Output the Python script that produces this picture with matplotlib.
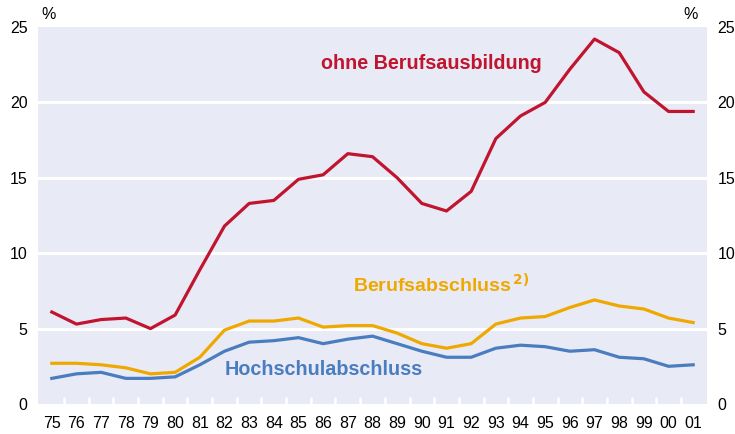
import matplotlib

matplotlib.use("Agg")
import matplotlib.pyplot as plt  # noqa: E402
import numpy as np  # noqa: E402

plt.rcParams["font.family"] = ["Liberation Sans", "DejaVu Sans"]

YEARS = ["75", "76", "77", "78", "79", "80", "81", "82", "83", "84", "85", "86", "87", "88",
         "89", "90", "91", "92", "93", "94", "95", "96", "97", "98", "99", "00", "01"]
OHNE = [6.1, 5.3, 5.6, 5.7, 5.0, 5.9, 8.9, 11.8, 13.3, 13.5, 14.9, 15.2, 16.6, 16.4,
        15.0, 13.3, 12.8, 14.1, 17.6, 19.1, 20.0, 22.2, 24.2, 23.3, 20.7, 19.4, 19.4]
BERUF = [2.7, 2.7, 2.6, 2.4, 2.0, 2.1, 3.1, 4.9, 5.5, 5.5, 5.7, 5.1, 5.2, 5.2,
         4.7, 4.0, 3.7, 4.0, 5.3, 5.7, 5.8, 6.4, 6.9, 6.5, 6.3, 5.7, 5.4]
HOCH = [1.7, 2.0, 2.1, 1.7, 1.7, 1.8, 2.6, 3.5, 4.1, 4.2, 4.4, 4.0, 4.3, 4.5,
        4.0, 3.5, 3.1, 3.1, 3.7, 3.9, 3.8, 3.5, 3.6, 3.1, 3.0, 2.5, 2.6]
YTICKS = [0, 5, 10, 15, 20, 25]

RED, YELLOW, BLUE = "#c0142f", "#efa800", "#4a7cc0"
BG = "#e8eaf5"

fig = plt.figure(figsize=(7.35, 4.34), dpi=100)
ax = fig.add_axes([38 / 735, 30 / 434, 669 / 735, 377 / 434])
ax.set_facecolor(BG)
for s in ax.spines.values():
    s.set_visible(False)

x = np.arange(len(YEARS))
ax.set_xlim(-0.56, len(YEARS) - 0.44)
ax.set_ylim(0, 25)

for v in YTICKS[1:-1]:
    ax.axhline(v, color="white", lw=2.2, zorder=1)

ax.plot(x, OHNE, color=RED, lw=2.3, zorder=3)
ax.plot(x, BERUF, color=YELLOW, lw=2.3, zorder=3)
ax.plot(x, HOCH, color=BLUE, lw=2.3, zorder=3)

ax.set_xticks(x)
ax.set_xticklabels(YEARS, fontsize=11.5)
ax.set_xticks(x[:-1] + 0.5, minor=True)
ax.tick_params(axis="x", which="major", length=0, pad=9)
ax.tick_params(axis="x", which="minor", direction="in", length=5, width=1.8, color="white")

ax.set_yticks(YTICKS)
ax.set_yticklabels([str(v) for v in YTICKS], fontsize=11.5)
ax.tick_params(axis="y", length=0, pad=7.5, labelleft=True, labelright=True)

ax.text(0.005, 1.032, "%", transform=ax.transAxes, fontsize=11.5, ha="left", va="center")
ax.text(0.9865, 1.032, "%", transform=ax.transAxes, fontsize=11.5, ha="right", va="center")

ax.text(15.4, 22.6, "ohne Berufsausbildung", color=RED, fontsize=14.2, fontweight="bold",
        ha="center", va="center")
ax.text(12.2, 7.9, r"Berufsabschluss$^{\,\mathbf{2)}}$", color=YELLOW, fontsize=14,
        fontweight="bold", ha="left", va="center")
ax.text(7.0, 2.3, "Hochschulabschluss", color=BLUE, fontsize=14.2, fontweight="bold",
        ha="left", va="center")

fig.savefig("out.png", dpi=100)
plt.close(fig)
